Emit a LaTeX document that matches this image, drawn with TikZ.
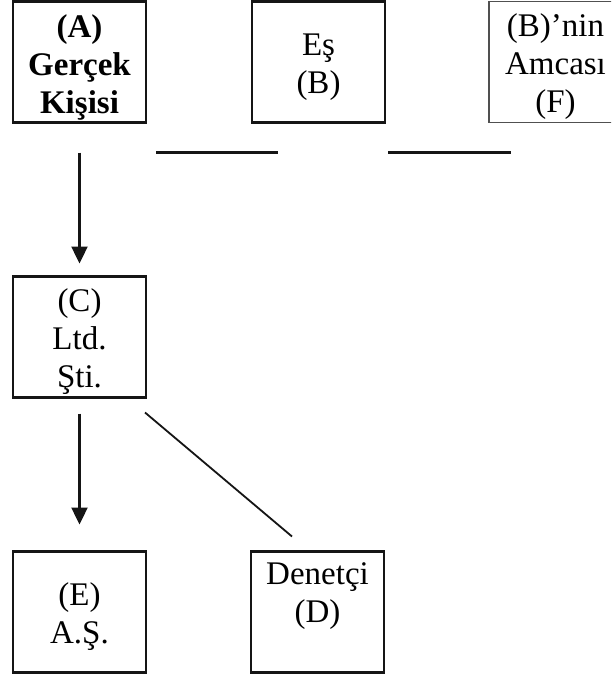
\documentclass[tikz,border=0pt]{standalone}
\usepackage{fontspec}
\setmainfont{Liberation Serif}
\usetikzlibrary{arrows.meta}
\definecolor{ink}{HTML}{151515}
\definecolor{greyink}{HTML}{505050}
% extra room above the first line of a box
\newcommand\toppad{\rule{0pt}{33pt}}
\begin{document}
\begin{tikzpicture}[x=1pt,y=-1pt,
  entity/.style={draw=ink, line width=2.8pt, rectangle, minimum width=133pt,
    minimum height=121pt, inner sep=0pt, outer sep=0pt, align=center,
    font=\fontsize{33}{38}\selectfont},
  faint/.style={entity, draw=greyink, line width=1.6pt},
  link/.style={draw=ink, line width=2.4pt},
  flow/.style={link, -{Triangle[length=17pt,width=16pt]}},
  tie/.style={draw=ink, line width=1.8pt}]
\clip (0,0) rectangle (611,674);
\fill[white] (0,0) rectangle (611,674);

% top row
\node[entity] (A) at (79.5,62) {\toppad\textbf{(A)}\\\textbf{Gerçek}\\\textbf{Kişisi}};
\node[entity] (B) at (318.5,62) {\toppad Eş\\(B)};
\node[faint]  (F) at (555.5,62) {\toppad(B)’nin\\Amcası\\(F)};

% companies and auditor
\node[entity] (C) at (79.5,337) {\toppad(C)\\Ltd.\\Şti.};
\node[entity] (E) at (79.5,612) {\toppad(E)\\A.Ş.};
\node[entity] (D) at (317.5,612) {\toppad Denetçi\\(D)\\\strut};

% relations
\draw[flow, shorten <=30pt, shorten >=13pt] (A.south) -- (C.north);
\draw[flow, shorten <=16pt, shorten >=27pt] (C.south) -- (E.north);
\draw[link] ([xshift=10pt,yshift=-30pt]A.south east) -- ([xshift=26pt,yshift=-30pt]B.south west);
\draw[link] ([xshift=3pt,yshift=-30pt]B.south east) -- ([xshift=22pt,yshift=-30pt]F.south west);
\draw[tie] ([xshift=-1pt,yshift=-15pt]C.south east) -- ([xshift=41pt,yshift=15pt]D.north west);
\end{tikzpicture}
\end{document}
